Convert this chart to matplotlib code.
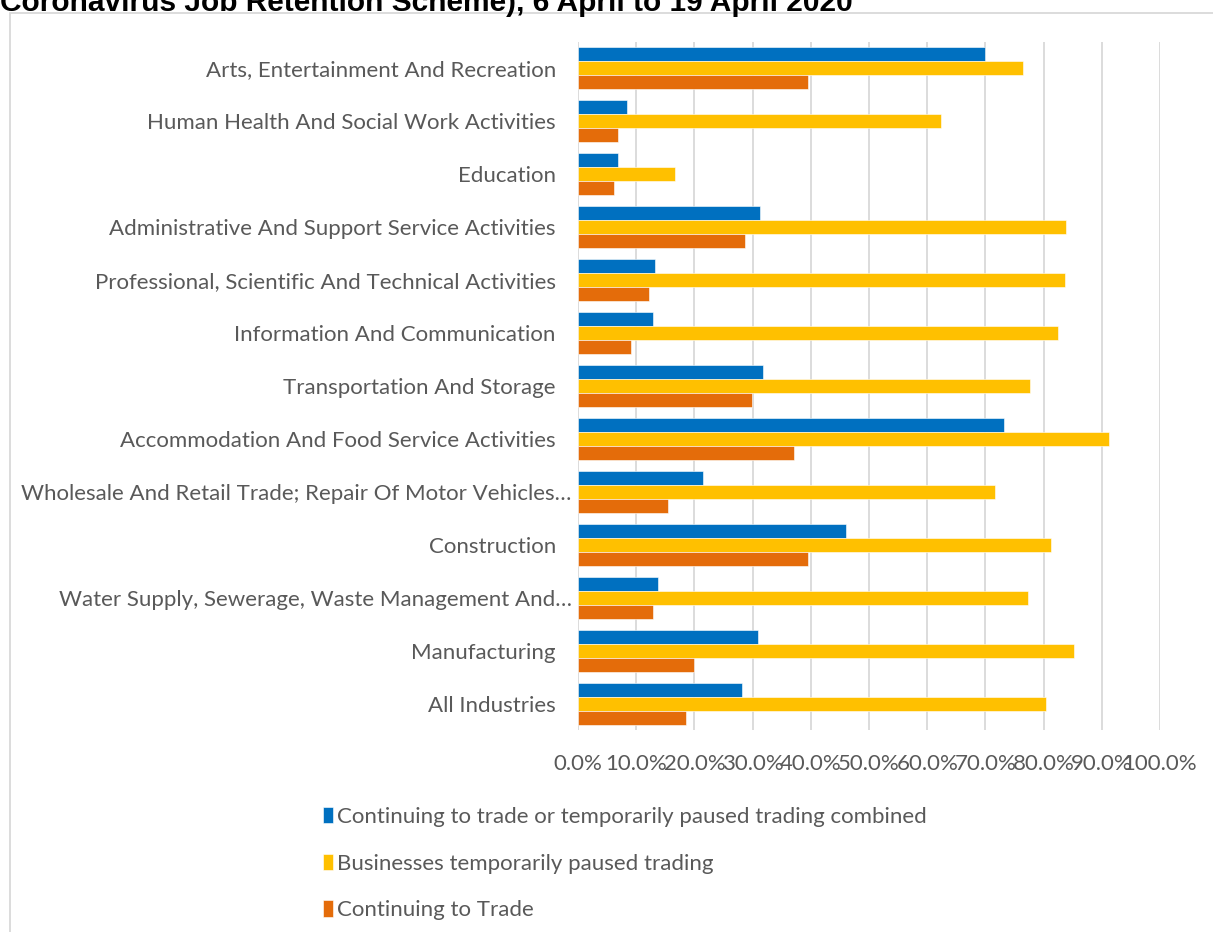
import numpy as np
import matplotlib.pyplot as plt
import matplotlib.transforms as mtransforms
from matplotlib.patches import Rectangle
from matplotlib.ticker import FuncFormatter

# industries, top to bottom
industries = [
    "Arts, Entertainment And Recreation",
    "Human Health And Social Work Activities",
    "Education",
    "Administrative And Support Service Activities",
    "Professional, Scientific And Technical Activities",
    "Information And Communication",
    "Transportation And Storage",
    "Accommodation And Food Service Activities",
    "Wholesale And Retail Trade; Repair Of Motor Vehicles\u2026",
    "Construction",
    "Water Supply, Sewerage, Waste Management And\u2026",
    "Manufacturing",
    "All Industries",
]

# share of workforce furloughed (%)
combined = [70.0, 8.5, 6.8, 31.2, 13.2, 12.9, 31.8, 73.2, 21.5, 46.0, 13.7, 30.9, 28.2]
paused = [76.5, 62.4, 16.6, 83.8, 83.7, 82.5, 77.7, 91.2, 71.6, 81.3, 77.3, 85.2, 80.4]
trading = [39.5, 6.9, 6.1, 28.7, 12.2, 9.1, 29.9, 37.1, 15.5, 39.5, 12.9, 19.9, 18.6]

series_names = [
    "Continuing to trade or temporarily paused trading combined",
    "Businesses temporarily paused trading",
    "Continuing to Trade",
]
colors = ["#0070C0", "#FFC000", "#E46C0A"]

plt.rcParams['font.family'] = ['Lato', 'DejaVu Sans']
grey = "#595959"

fig = plt.figure(figsize=(12.13, 9.32), dpi=100)
ax = fig.add_axes([578 / 1213, 1 - 730 / 932, 582 / 1213, 688 / 932])

y = np.arange(len(industries))
w = 0.265
for k, (vals, name, col) in enumerate(zip([combined, paused, trading], series_names, colors)):
    ax.barh(y + (k - 1) * w, vals, height=w, color=col, label=name,
            edgecolor="white", linewidth=0.4, zorder=3)

ax.set_xlim(0, 100)
ax.set_xticks(np.arange(0, 101, 10))
ax.xaxis.set_major_formatter(FuncFormatter(lambda v, p: f"{v:.1f}%"))
ax.set_ylim(len(industries) - 0.5, -0.5)
ax.set_yticks(y)
ax.set_yticklabels(industries)
ax.grid(axis="x", color="#D9D9D9", linewidth=1.3, zorder=0)
for s in ax.spines.values():
    s.set_visible(False)
ax.tick_params(axis="both", length=0, colors=grey, labelsize=16)
ax.tick_params(axis="y", pad=16)
ax.tick_params(axis="x", pad=17)

# truncated labels sit a little further right
shift = mtransforms.ScaledTranslation(16 / 100, 0, fig.dpi_scale_trans)
for lbl in ax.get_yticklabels():
    if lbl.get_text().endswith("\u2026"):
        lbl.set_transform(lbl.get_transform() + shift)

# chart frame
fig.patches.append(Rectangle((10 / 1213, -0.01), 1.0, 1 - 13 / 932 + 0.01,
                             transform=fig.transFigure, fill=False,
                             edgecolor="#D9D9D9", linewidth=1.3))

fig.text(0.0, 1 - 11 / 932, "Coronavirus Job Retention Scheme), 6 April to 19 April 2020",
         fontsize=21.5, fontweight="bold", family="Liberation Sans", va="baseline")

fig.legend(loc="upper left", bbox_to_anchor=(303 / 1213, 1 - 787 / 932),
           frameon=False, ncol=1, fontsize=16, labelspacing=1.2,
           handlelength=0.45, handleheight=0.75, handletextpad=0.2,
           labelcolor=grey)

fig.savefig("out.png", dpi=100)
